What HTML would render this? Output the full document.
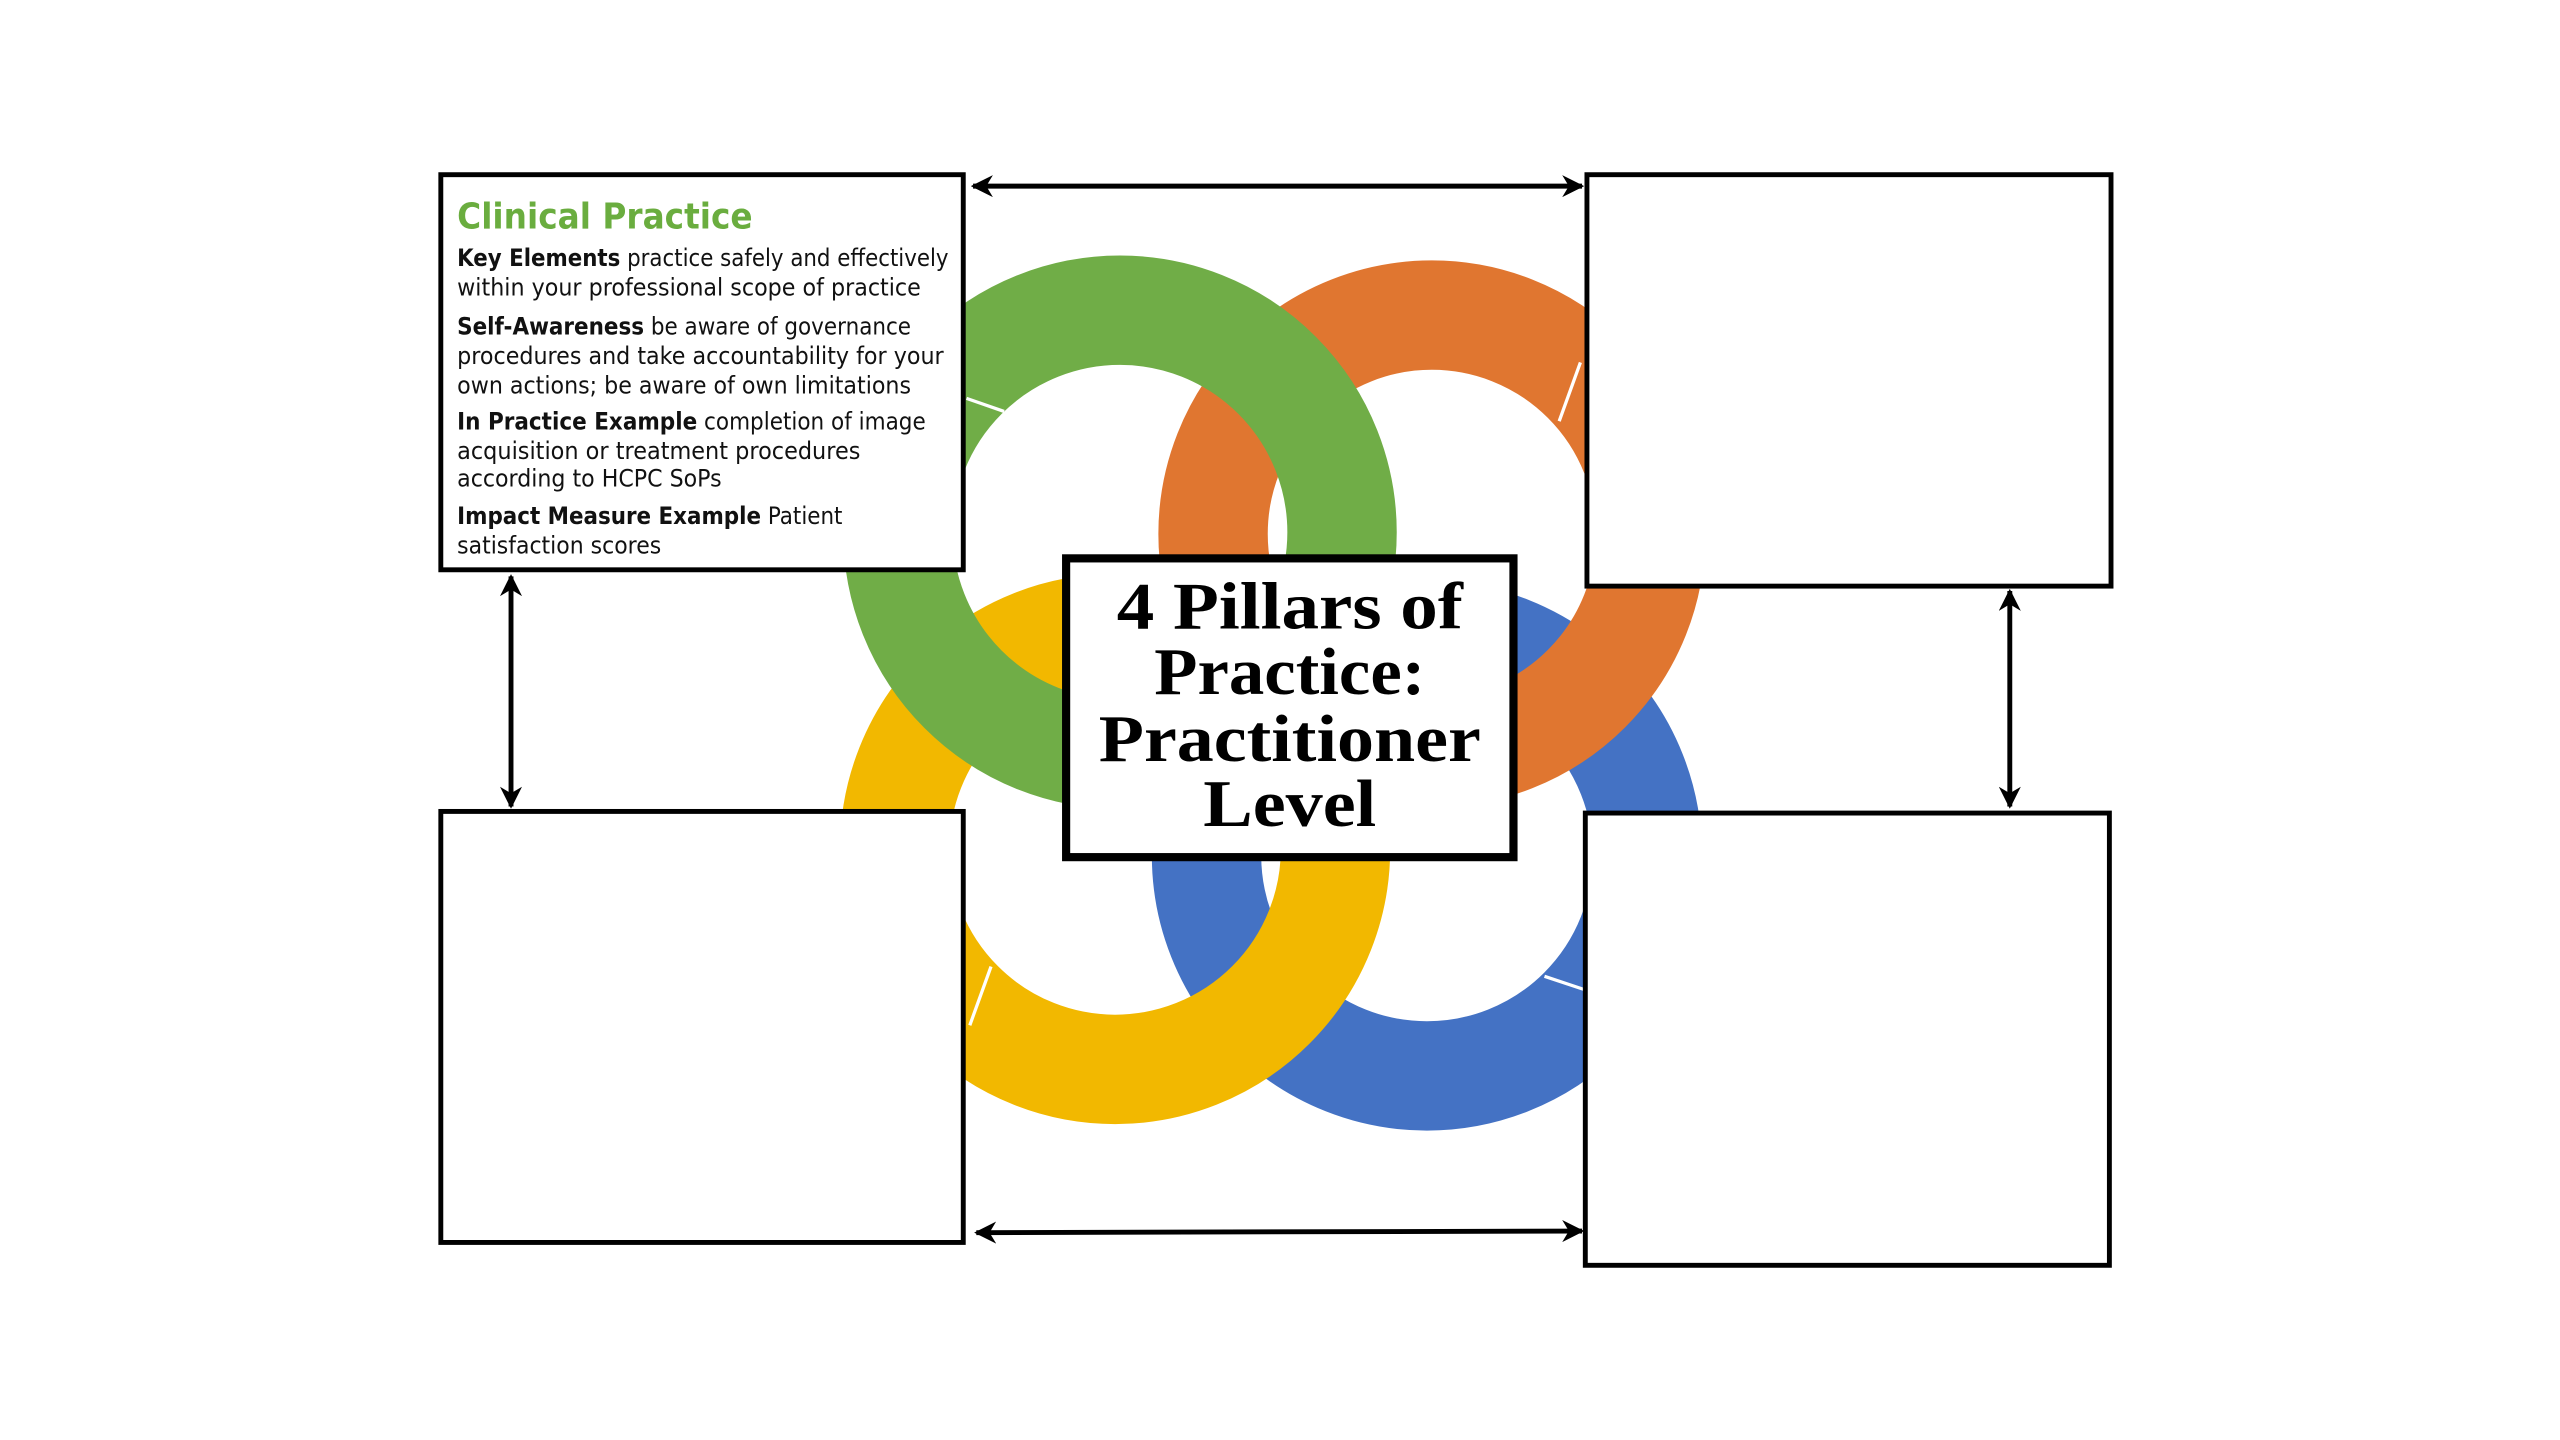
<!DOCTYPE html>
<html><head><meta charset="utf-8"><style>html,body{margin:0;padding:0;background:#fff}svg{display:block}</style></head>
<body>
<svg width="2560" height="1440" viewBox="0 0 1568 882" preserveAspectRatio="none" xmlns="http://www.w3.org/2000/svg">
<defs>
<marker id="ah" viewBox="0 0 10 10" refX="9" refY="5" markerWidth="4.5" markerHeight="4.5" orient="auto-start-reverse"><path d="M0,0 L10,5 L0,10 L3,5 z" fill="#000"/></marker>
</defs>
<rect width="1568" height="882" fill="#fff"/>
<g fill="none" stroke-width="67">
<circle cx="874" cy="524" r="135" stroke="#4472c4"/>
<circle cx="877" cy="327" r="134" stroke="#e07630"/>
<circle cx="683" cy="520" r="135" stroke="#f2b800"/>
<circle cx="686" cy="326" r="136" stroke="#70ad47"/>
</g>
<g stroke="#fff" stroke-width="2">
<line x1="592" y1="244" x2="615" y2="252"/>
<line x1="955" y1="258" x2="968" y2="222"/>
<line x1="594" y1="628" x2="607" y2="592"/>
<line x1="946" y1="598" x2="970" y2="606"/>
</g>
<g stroke="#000" stroke-width="3" fill="#fff">
<rect x="270" y="107" width="320" height="242"/>
<rect x="972" y="107" width="321" height="252"/>
<rect x="270" y="497" width="320" height="264"/>
<rect x="971" y="498" width="321" height="277"/>
</g>
<rect x="653" y="342" width="274" height="183" fill="#fff" stroke="#000" stroke-width="5"/>
<g stroke="#000" stroke-width="3" marker-start="url(#ah)" marker-end="url(#ah)">
<line x1="596" y1="114" x2="969" y2="114"/>
<line x1="598" y1="755" x2="969" y2="754"/>
<line x1="313" y1="353" x2="313" y2="494"/>
<line x1="1231" y1="362" x2="1231" y2="494"/>
</g>
<g font-family="'DejaVu Sans', 'Liberation Sans', sans-serif" font-size="14.5" fill="#111">
<text x="280" y="140" font-size="22" font-weight="bold" fill="#6aad3f" textLength="181" lengthAdjust="spacingAndGlyphs">Clinical Practice</text>
<text x="280" y="163" textLength="301" lengthAdjust="spacingAndGlyphs"><tspan font-weight="bold">Key Elements</tspan> practice safely and effectively</text>
<text x="280" y="181" textLength="284" lengthAdjust="spacingAndGlyphs">within your professional scope of practice</text>
<text x="280" y="205" textLength="278" lengthAdjust="spacingAndGlyphs"><tspan font-weight="bold">Self-Awareness</tspan> be aware of governance</text>
<text x="280" y="223" textLength="298" lengthAdjust="spacingAndGlyphs">procedures and take accountability for your</text>
<text x="280" y="241" textLength="278" lengthAdjust="spacingAndGlyphs">own actions; be aware of own limitations</text>
<text x="280" y="263" textLength="287" lengthAdjust="spacingAndGlyphs"><tspan font-weight="bold">In Practice Example</tspan> completion of image</text>
<text x="280" y="281" textLength="247" lengthAdjust="spacingAndGlyphs">acquisition or treatment procedures</text>
<text x="280" y="298" textLength="162" lengthAdjust="spacingAndGlyphs">according to HCPC SoPs</text>
<text x="280" y="321" textLength="236" lengthAdjust="spacingAndGlyphs"><tspan font-weight="bold">Impact Measure Example</tspan> Patient</text>
<text x="280" y="339" textLength="125" lengthAdjust="spacingAndGlyphs">satisfaction scores</text>
</g>
<g font-family="'Liberation Serif', serif" font-size="41" font-weight="bold" fill="#000" text-anchor="middle">
<text x="790" y="385" textLength="212" lengthAdjust="spacingAndGlyphs">4 Pillars of</text>
<text x="790" y="425" textLength="166" lengthAdjust="spacingAndGlyphs">Practice:</text>
<text x="790" y="466" textLength="234" lengthAdjust="spacingAndGlyphs">Practitioner</text>
<text x="790" y="506" textLength="106" lengthAdjust="spacingAndGlyphs">Level</text>
</g>
</svg>
</body></html>
